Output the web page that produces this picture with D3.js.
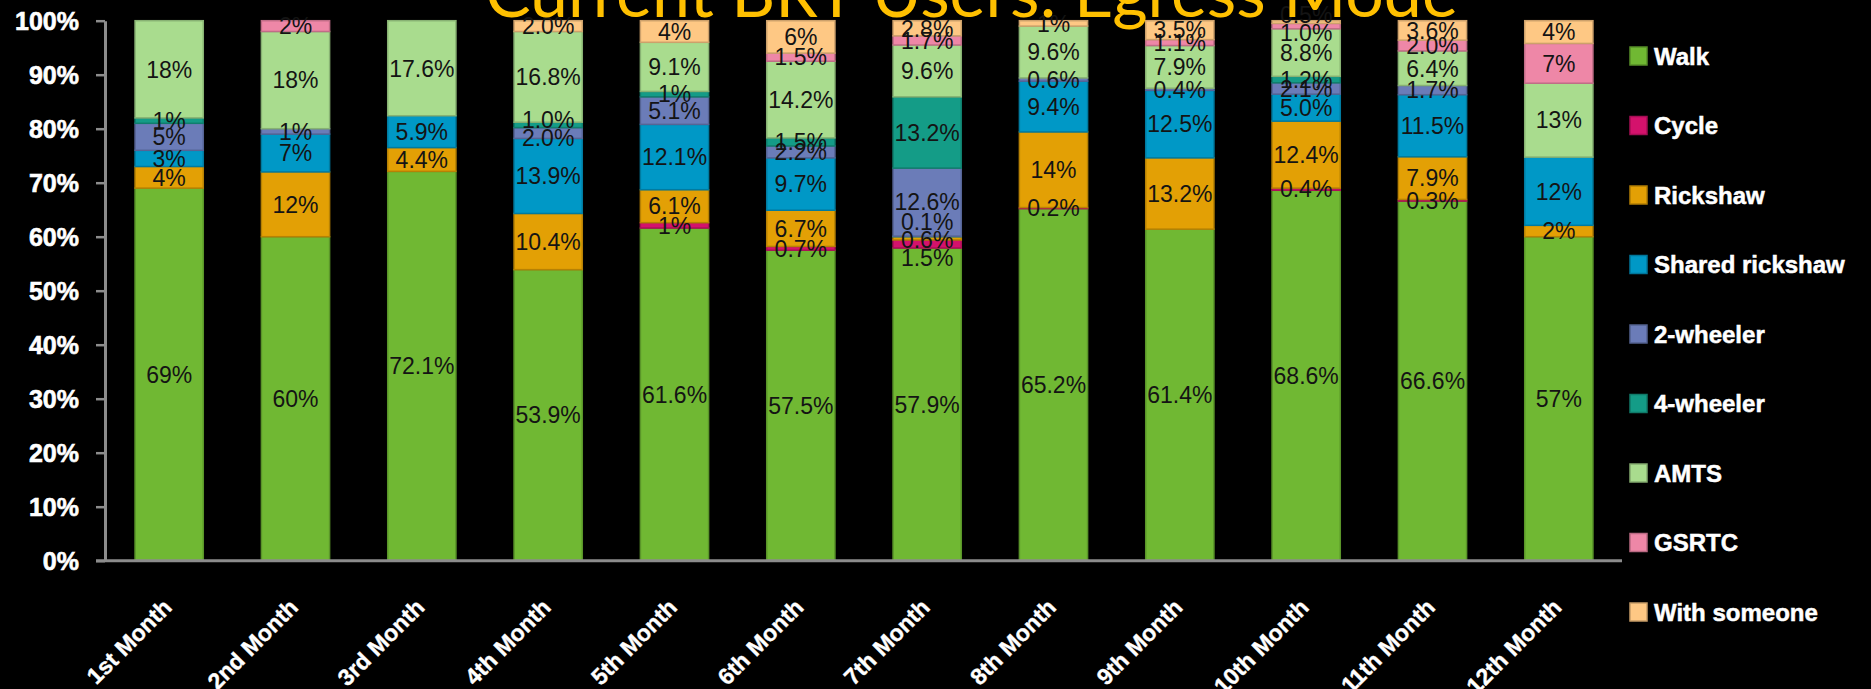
<!DOCTYPE html>
<html><head><meta charset="utf-8">
<script src="https://cdn.jsdelivr.net/npm/d3@7"></script>
<style>html,body{margin:0;padding:0;background:#000;overflow:hidden}</style>
</head><body>
<svg id="chart" width="1871" height="689"></svg>
<script>
// ---------- data ----------
const months = ["1st Month","2nd Month","3rd Month","4th Month","5th Month","6th Month",
                "7th Month","8th Month","9th Month","10th Month","11th Month","12th Month"];
const seriesNames = ["Walk","Cycle","Rickshaw","Shared rickshaw","2-wheeler","4-wheeler","AMTS","GSRTC","With someone"];
const walk         = [69, 60, 72.1, 53.9, 61.6, 57.5, 57.9, 65.2, 61.4, 68.6, 66.6, 57];
const cycle        = [0, 0, 0, 0, 1, 0.7, 1.5, 0.2, 0, 0.4, 0.3, 0];
const rickshaw     = [4, 12, 4.4, 10.4, 6.1, 6.7, 0.6, 14, 13.2, 12.4, 7.9, 2];
const sharedRick   = [3, 7, 5.9, 13.9, 12.1, 9.7, 0.1, 9.4, 12.5, 5.0, 11.5, 12];
const twoWheeler   = [5, 1, 0, 2.0, 5.1, 2.2, 12.6, 0.6, 0.4, 2.1, 1.7, 0];
const fourWheeler  = [1, 0, 0, 1.0, 1, 1.5, 13.2, 0, 0, 1.2, 0, 0];
const amts         = [18, 18, 17.6, 16.8, 9.1, 14.2, 9.6, 9.6, 7.9, 8.8, 6.4, 13];
const gsrtc        = [0, 2, 0, 0, 0, 1.5, 1.7, 0, 1.1, 1.0, 2.0, 7];
const withSomeone  = [0, 0, 0, 2.0, 4, 6, 2.8, 1, 3.5, 0.5, 3.6, 4];
// labels of whole numbers that are written with one decimal: [series, month index]
const oneDecimalLabels = [["2-wheeler",3],["4-wheeler",3],["With someone",3],
                          ["Shared rickshaw",9],["GSRTC",9],["GSRTC",10]];
const yTicks = [0,0.1,0.2,0.3,0.4,0.5,0.6,0.7,0.8,0.9,1];
const seriesColors = ["#70b833","#d4126c","#e3a005","#0098c6","#6b7cb8","#149c87","#a9dc8e","#ee87a7","#fec884"];
const titleText = "Current BRT Users: Egress Mode";

// ---------- layout ----------
const svg = d3.select("#chart");
const seriesValues = [walk,cycle,rickshaw,sharedRick,twoWheeler,fourWheeler,amts,gsrtc,withSomeone];
const rows = months.map((m,i)=>{const r={month:m,idx:i}; seriesNames.forEach((s,k)=>r[s]=seriesValues[k][i]); return r;});
const stacked = d3.stack().keys(seriesNames).offset(d3.stackOffsetExpand)(rows);
const color = d3.scaleOrdinal().domain(seriesNames).range(seriesColors);

const x = d3.scaleBand().domain(months).range([106,1622]).paddingInner(0.46).paddingOuter(0.23);
const y = d3.scaleLinear().domain([0,1]).range([560.7,20.7]);
const axisColor = "#8c8c8c";
const boldFont = "Liberation Sans, Arial, sans-serif";

// bars
const barG = svg.append("g");
stacked.forEach(layer=>{
  const c = color(layer.key);
  barG.append("g").selectAll("rect")
    .data(layer.filter(d=>d.data[layer.key]>0))
    .join("rect")
    .attr("x",d=>x(d.data.month))
    .attr("width",x.bandwidth())
    .attr("y",d=>y(d[1]))
    .attr("height",d=>y(d[0])-y(d[1]))
    .attr("fill",c)
    .attr("stroke",d3.color(c).darker(0.6))
    .attr("stroke-width",1.5);
});

// y axis
const yAxis = svg.append("g").attr("transform","translate(105,0)")
  .call(d3.axisLeft(y).tickValues(yTicks).tickFormat(d3.format(".0%")).tickSize(9).tickSizeOuter(0).tickPadding(17));
yAxis.select(".domain").attr("stroke",axisColor).attr("stroke-width",3);
yAxis.selectAll(".tick line").attr("stroke",axisColor).attr("stroke-width",2.5);
yAxis.selectAll(".tick text").attr("fill","#fff").attr("font-family",boldFont)
  .attr("font-weight","bold").attr("font-size",25).attr("dy","0.36em")
  .attr("stroke","#fff").attr("stroke-width",0.6);

// x axis
const xAxis = svg.append("g").attr("transform","translate(0,560.7)")
  .call(d3.axisBottom(x).tickSize(0));
xAxis.select(".domain").remove();
xAxis.append("line").attr("x1",96).attr("x2",x.range()[1]).attr("y1",0).attr("y2",0)
  .attr("stroke",axisColor).attr("stroke-width",3);
xAxis.selectAll(".tick text")
  .attr("fill","#fff").attr("font-family",boldFont)
  .attr("font-weight","bold").attr("font-size",23)
  .attr("stroke","#fff").attr("stroke-width",0.4)
  .attr("text-anchor","end").attr("x",0).attr("y",0).attr("dy",0)
  .attr("transform","translate(4,48) rotate(-45)");

// data labels: centred in each segment, very close neighbours pushed apart
const isOneDec = (s,i)=>oneDecimalLabels.some(p=>p[0]===s&&p[1]===i);
const labels = [];
stacked.forEach(layer=>{
  layer.forEach(d=>{
    const v = d.data[layer.key];
    if(!(v>0)) return;
    labels.push({
      month:d.data.month,
      cy:(y(d[0])+y(d[1]))/2,
      text:(Number.isInteger(v)&&isOneDec(layer.key,d.data.idx)? v.toFixed(1): String(v))+"%"
    });
  });
});
d3.groups(labels,l=>l.month).forEach(([m,ls])=>{
  ls.sort((a,b)=>a.cy-b.cy);
  // find clusters of labels whose centres are closer than 8.5px and spread them
  let i=0;
  while(i<ls.length){
    let j=i;
    while(j+1<ls.length && ls[j+1].cy-ls[j].cy<8.5) j++;
    if(j>i){
      const grp = ls.slice(i,j+1);
      const mid = d3.mean(grp,l=>l.cy);
      const gap = 18;
      grp.forEach((l,k)=>l.cy = mid + (k-(grp.length-1)/2)*gap);
    }
    i=j+1;
  }
});
svg.append("g").selectAll("text").data(labels).join("text")
  .attr("x",d=>x(d.month)+x.bandwidth()/2)
  .attr("y",d=>d.cy)
  .attr("dy","0.36em")
  .attr("text-anchor","middle")
  .attr("font-family","Liberation Sans, Arial, sans-serif")
  .attr("font-size",23)
  .attr("fill","#141414")
  .text(d=>d.text);

// legend
const leg = svg.append("g").selectAll("g").data(seriesNames).join("g")
  .attr("transform",(d,i)=>`translate(1630,${56+i*69.5})`);
leg.append("rect").attr("x",0).attr("y",-9).attr("width",17).attr("height",18)
  .attr("fill",d=>color(d)).attr("stroke",d=>d3.color(color(d)).darker(0.7)).attr("stroke-width",1.5);
leg.append("text").attr("x",24).attr("y",0).attr("dy","0.36em")
  .attr("fill","#fff").attr("font-family",boldFont)
  .attr("stroke","#fff").attr("stroke-width",0.5)
  .attr("font-weight","bold").attr("font-size",24).text(d=>d);

// title
const title = svg.append("text").attr("x",971.5).attr("y",17).attr("text-anchor","middle")
  .attr("fill","#ffc000").attr("font-family","Lato, Open Sans, sans-serif").attr("font-size",64)
  .text(titleText);
const tl = title.node().getComputedTextLength();
title.attr("font-size",64*973/tl);
</script>
</body></html>
